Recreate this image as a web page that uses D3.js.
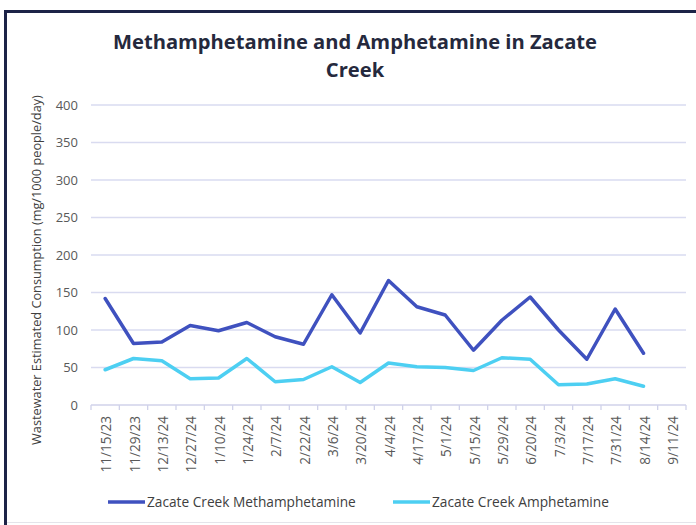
<!DOCTYPE html>
<html><head><meta charset="utf-8">
<script src="https://cdn.jsdelivr.net/npm/d3@7"></script>
<style>body{margin:0;background:#fff}svg{display:block}</style>
</head><body>
<script>
const categories = ["11/15/23","11/29/23","12/13/24","12/27/24","1/10/24","1/24/24","2/7/24","2/22/24","3/6/24","3/20/24","4/4/24","4/17/24","5/1/24","5/15/24","5/29/24","6/20/24","7/3/24","7/17/24","7/31/24","8/14/24","9/11/24"];
const methValues = [142,82,84,106,99,110,91,81,147,96,166,131,120,73,113,144,100,61,128,69,null];
const amphValues = [47,62,59,35,36,62,31,34,51,30,56,51,50,46,63,61,27,28,35,25,null];
const yTicks = [0,50,100,150,200,250,300,350,400];
const seriesNames = ["Zacate Creek Methamphetamine","Zacate Creek Amphetamine"];
const colors = ["#3f51bf","#4dcff2"];

const W = 696, H = 525;
const svg = d3.select("body").append("svg").attr("width", W).attr("height", H);
const font = "'Open Sans', sans-serif";

function fit(sel, target){
  const n = sel.node(); let fs = parseFloat(sel.attr("font-size"));
  for(let i=0;i<3;i++){ const w = n.getComputedTextLength(); fs = fs*target/w; sel.attr("font-size", fs); }
}

// frame
svg.append("rect").attr("x",4).attr("y",10).attr("width",W-4).attr("height",3).attr("fill","#1d2347");
svg.append("rect").attr("x",4).attr("y",10).attr("width",3).attr("height",H-10).attr("fill","#1d2347");
svg.append("rect").attr("x",7).attr("y",522).attr("width",W-7).attr("height",1).attr("fill","#e4e4ea");

const x = d3.scaleBand().domain(categories).range([91, 686]);
const y = d3.scaleLinear().domain([0,400]).range([405,105]);

// gridlines
svg.append("g").selectAll("line").data(yTicks.filter(d=>d>0)).join("line")
  .attr("x1",91).attr("x2",686).attr("y1",d=>y(d)).attr("y2",d=>y(d))
  .attr("stroke","#d9dbf0").attr("stroke-width",1.3);

// y axis labels
const yAxis = svg.append("g").attr("transform","translate(78,0)")
  .call(d3.axisLeft(y).tickValues(yTicks).tickSize(0).tickPadding(0));
yAxis.select(".domain").remove();
yAxis.selectAll("text").attr("font-family",font).attr("font-size",13).attr("fill","#595959");

// x axis
const xAxisG = svg.append("g").attr("transform","translate(0,405)");
xAxisG.append("line").attr("x1",91).attr("x2",686).attr("stroke","#d0d2ea").attr("stroke-width",1.3);
const edges = categories.map(c=>x(c)).concat([x(categories[categories.length-1])+x.bandwidth()]);
xAxisG.selectAll("line.tk").data(edges).join("line").attr("class","tk")
  .attr("x1",d=>d).attr("x2",d=>d).attr("y1",0).attr("y2",5).attr("stroke","#d0d2ea").attr("stroke-width",1.3);
xAxisG.selectAll("text").data(categories).join("text")
  .attr("transform",d=>`translate(${x(d)+x.bandwidth()/2+6},11) rotate(-90)`)
  .attr("text-anchor","end").attr("font-family",font).attr("font-size",13.6).attr("fill","#595959")
  .text(d=>d);

// lines
const line = d3.line().defined(d=>d.v!=null).x(d=>x(d.c)+x.bandwidth()/2).y(d=>y(d.v));
[methValues, amphValues].forEach((vals,i)=>{
  svg.append("path").datum(categories.map((c,j)=>({c, v: vals[j]})))
    .attr("d", line).attr("fill","none").attr("stroke",colors[i]).attr("stroke-width",3.5)
    .attr("stroke-linejoin","round").attr("stroke-linecap","round");
});

// title
const t1 = svg.append("text").attr("x",355).attr("y",49).attr("text-anchor","middle")
  .attr("font-family",font).attr("font-weight","bold").attr("font-size",19).attr("fill","#25293d")
  .text("Methamphetamine and Amphetamine in Zacate");
fit(t1, 484);
svg.append("text").attr("x",355).attr("y",77).attr("text-anchor","middle")
  .attr("font-family",font).attr("font-weight","bold").attr("font-size",t1.attr("font-size")).attr("fill","#25293d")
  .text("Creek");

// y title
const yt = svg.append("text").attr("transform","translate(41,270) rotate(-90)").attr("text-anchor","middle")
  .attr("font-family",font).attr("font-size",12.5).attr("fill","#404040")
  .text("Wastewater Estimated Consumption (mg/1000 people/day)");
fit(yt, 350);

// legend
const legX = [108, 393];
const legW = [209, 177];
seriesNames.forEach((n,i)=>{
  svg.append("line").attr("x1",legX[i]).attr("x2",legX[i]+37).attr("y1",502).attr("y2",502)
    .attr("stroke",colors[i]).attr("stroke-width",3.5);
  const t = svg.append("text").attr("x",legX[i]+39).attr("y",507).attr("font-family",font)
    .attr("font-size",13).attr("fill","#404040").text(n);
  fit(t, legW[i]);
});
</script>
</body></html>
